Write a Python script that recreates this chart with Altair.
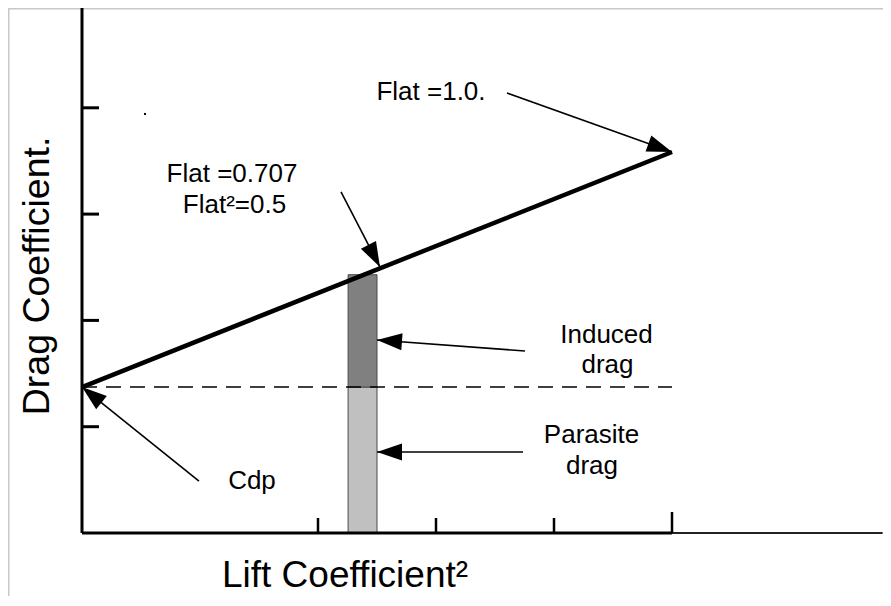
import math
import altair as alt
import pandas as pd

# ---------------- data (chart units) ----------------
# drag polar: CD vs CL^2
cl2_line = [0.0, 1.0]
cd_line = [1.373, 3.584]
cdp = 1.373

# stacked bar at CL^2 = 0.5
bar_x0, bar_x1 = 0.451, 0.5
bar_parasite = [0.0, 1.373]
bar_induced = [1.373, 2.43]

y_ticks = [1, 2, 3, 4]
x_ticks = [0.4, 0.6, 0.8, 1.0]
x_tick_big = [False, False, False, True]
y_axis_top = 4.94
x_axis_end = 1.0
x_axis_far = 1.357

# arrows (tail -> tip)
arrow_tail_x = [0.7203, 0.439, 0.7508, 0.7475, 0.1983]
arrow_tail_y = [4.139, 3.208, 1.712, 0.762, 0.489]
arrow_tip_x = [1.0, 0.505, 0.5, 0.5, 0.0]
arrow_tip_y = [3.584, 2.502, 1.816, 0.762, 1.373]

# annotation labels
label_text = ["Flat =1.0.", "Flat =0.707", "Flat\u00b2=0.5", "Induced", "drag",
              "Parasite", "drag", "Cdp"]
label_x = [0.5915, 0.2542, 0.2585, 0.889, 0.8907, 0.8636, 0.8644, 0.2881]
label_y = [4.073, 3.302, 3.010, 1.787, 1.505, 0.847, 0.555, 0.414]

stray_dot_x = [0.1068]
stray_dot_y = [3.942]

x_title = "Lift Coefficient\u00b2"
x_title_pos = (0.4458, -0.508)
y_title = "Drag Coefficient."
y_title_pos = (-0.0559, 2.418)

# ---------------- layout ----------------
W, H = 875, 588
PX_X, PX_Y = 590.0, 106.3      # pixels per unit
ORIG_X, ORIG_Y = 74.0, 525.0   # view pixel of (0, 0)
xdom = [-ORIG_X / PX_X, (W - ORIG_X) / PX_X]
ydom = [-(H - ORIG_Y) / PX_Y, ORIG_Y / PX_Y]
xs = alt.Scale(domain=xdom, nice=False, zero=False)
ys = alt.Scale(domain=ydom, nice=False, zero=False)
FONT = "Liberation Sans"


def X(f, **k):
    return alt.X(f, type="quantitative", scale=xs, axis=None, **k)


def Y(f, **k):
    return alt.Y(f, type="quantitative", scale=ys, axis=None, **k)


# bars
bars_df = pd.DataFrame({
    "x": [bar_x0, bar_x0], "x2": [bar_x1, bar_x1],
    "y": [bar_parasite[0], bar_induced[0]], "y2": [bar_parasite[1], bar_induced[1]],
    "part": ["Parasite", "Induced"],
})
bars = alt.Chart(bars_df).mark_rect(stroke="#4a4a4a", strokeWidth=1).encode(
    x=X("x"), x2="x2", y=Y("y"), y2="y2",
    color=alt.Color("part:N", scale=alt.Scale(domain=["Parasite", "Induced"],
                                              range=["#c0c0c0", "#808080"]), legend=None),
)

# dashed Cdp line
dash_df = pd.DataFrame({"x": [0.0], "x2": [x_axis_end], "y": [cdp]})
dash = alt.Chart(dash_df).mark_rule(color="black", strokeWidth=1.6, strokeDash=[15, 9]).encode(
    x=X("x"), x2="x2", y=Y("y"))

# drag line
line_df = pd.DataFrame({"x": cl2_line, "y": cd_line})
line = alt.Chart(line_df).mark_line(color="black", strokeWidth=4.5).encode(x=X("x"), y=Y("y"))

# axes lines
yaxis_df = pd.DataFrame({"x": [0.0], "y": [0.0], "y2": [y_axis_top]})
yaxis = alt.Chart(yaxis_df).mark_rule(color="black", strokeWidth=3).encode(
    x=X("x"), y=Y("y"), y2="y2")
xaxis_df = pd.DataFrame({"x": [0.0], "x2": [x_axis_end], "y": [0.0]})
xaxis = alt.Chart(xaxis_df).mark_rule(color="black", strokeWidth=3).encode(
    x=X("x"), x2="x2", y=Y("y"))
xaxis2_df = pd.DataFrame({"x": [x_axis_end], "x2": [x_axis_far], "y": [0.0]})
xaxis2 = alt.Chart(xaxis2_df).mark_rule(color="#222", strokeWidth=2).encode(
    x=X("x"), x2="x2", y=Y("y"))

# ticks (inward)
ytick_df = pd.DataFrame({"y": y_ticks})
ytick_df["x"] = 0.0
ytick_df["x2"] = 17 / PX_X
yticks = alt.Chart(ytick_df).mark_rule(color="black", strokeWidth=3).encode(
    x=X("x"), x2="x2", y=Y("y"))
xtick_df = pd.DataFrame({"x": x_ticks, "big": x_tick_big})
xtick_df["y"] = 0.0
xtick_df["y2"] = [(21 if b else 15) / PX_Y for b in x_tick_big]
xticks = alt.Chart(xtick_df).mark_rule(color="black", strokeWidth=2.5).encode(
    x=X("x"), y=Y("y"), y2="y2")

# arrows
arr_df = pd.DataFrame({"x": arrow_tail_x, "y": arrow_tail_y,
                       "x2": arrow_tip_x, "y2": arrow_tip_y})
angles = []
for tx, ty, px, py in zip(arrow_tail_x, arrow_tail_y, arrow_tip_x, arrow_tip_y):
    dx = (px - tx) * PX_X
    dy = -(py - ty) * PX_Y
    angles.append(math.degrees(math.atan2(dx, -dy)) % 360)
arr_df["angle"] = angles
shafts = alt.Chart(arr_df).mark_rule(color="black", strokeWidth=1.6).encode(
    x=X("x"), y=Y("y"), x2="x2", y2="y2")
heads = alt.Chart(arr_df).mark_point(
    shape="M0,0L-0.34,1L0.34,1Z", filled=True, fill="black", stroke=None,
    opacity=1, size=2500).encode(
    x=X("x2"), y=Y("y2"), angle=alt.Angle("angle:Q", scale=None))

# labels
lab_df = pd.DataFrame({"t": label_text, "x": label_x, "y": label_y})
labels = alt.Chart(lab_df).mark_text(font=FONT, fontSize=26, align="center",
                                     baseline="alphabetic", color="black").encode(
    x=X("x"), y=Y("y"), text="t:N")

dot_df = pd.DataFrame({"x": stray_dot_x, "y": stray_dot_y})
dot = alt.Chart(dot_df).mark_square(size=4, color="black", opacity=1).encode(x=X("x"), y=Y("y"))

# axis titles
xt_df = pd.DataFrame({"t": [x_title], "x": [x_title_pos[0]], "y": [x_title_pos[1]]})
xtitle = alt.Chart(xt_df).mark_text(font=FONT, fontSize=37, align="center",
                                    baseline="alphabetic", color="black").encode(
    x=X("x"), y=Y("y"), text="t:N")
yt_df = pd.DataFrame({"t": [y_title], "x": [y_title_pos[0]], "y": [y_title_pos[1]]})
ytitle = alt.Chart(yt_df).mark_text(font=FONT, fontSize=37.5, align="center", angle=270,
                                    baseline="alphabetic", color="black").encode(
    x=X("x"), y=Y("y"), text="t:N")

# image frame (top and left only)
frame_top = alt.Chart(pd.DataFrame({"a": [0]})).mark_rule(color="#c8c8c8", strokeWidth=2).encode(
    x=alt.value(0), x2=alt.value(W), y=alt.value(0.5))
frame_left = alt.Chart(pd.DataFrame({"a": [0]})).mark_rule(color="#c8c8c8", strokeWidth=2).encode(
    x=alt.value(0.5), y=alt.value(0), y2=alt.value(H))

chart = alt.layer(
    frame_top, frame_left, bars, dash, line, xaxis2, xaxis, yaxis, yticks, xticks,
    shafts, heads, labels, dot, xtitle, ytitle,
).properties(
    width=W, height=H, padding=0,
    autosize=alt.AutoSizeParams(type="none"),
).configure_view(stroke=None)

chart.save("out.html", embed_options={"renderer": "svg", "actions": False})
